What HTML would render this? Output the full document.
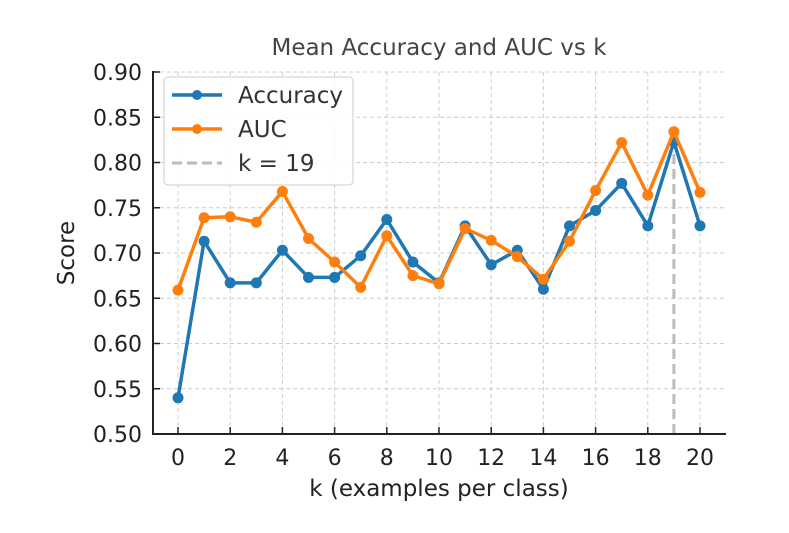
<!DOCTYPE html>
<html><head><meta charset="utf-8"><style>
html,body{margin:0;padding:0;background:#fff;}
svg{display:block;font-family:"DejaVu Sans","Liberation Sans",sans-serif;}
</style></head><body>
<svg id="chart" width="789" height="533" viewBox="0 0 789 533" xmlns="http://www.w3.org/2000/svg">
<rect x="0" y="0" width="789" height="533" fill="#fff"/>
<text x="439" y="55" text-anchor="middle" font-size="23" fill="#444">Mean Accuracy and AUC vs k</text>
<g id="grid"></g>
<g id="series"></g>
<g id="axes"></g>
<text x="439" y="496" text-anchor="middle" font-size="23" fill="#222">k (examples per class)</text>
<text x="74" y="253" text-anchor="middle" font-size="23" fill="#222" transform="rotate(-90 74 253)">Score</text>
<g>
<rect x="164" y="77" width="189" height="108" rx="4" fill="#fff" fill-opacity="0.85" stroke="#ccc" stroke-width="1"/>
<g>
<line x1="172" y1="95" x2="222" y2="95" stroke="#1f77b4" stroke-width="3.5"/>
<circle cx="197" cy="95" r="5" fill="#1f77b4"/>
<text x="238" y="103" font-size="23" fill="#333">Accuracy</text>
</g>
<g>
<line x1="172" y1="129" x2="222" y2="129" stroke="#ff7f0e" stroke-width="3.5"/>
<circle cx="197" cy="129" r="5" fill="#ff7f0e"/>
<text x="238" y="137" font-size="23" fill="#333">AUC</text>
</g>
<g>
<line x1="172" y1="163" x2="222" y2="163" stroke="#bbb" stroke-width="3" stroke-dasharray="10,5"/>
<text x="238" y="171" font-size="23" fill="#333">k = 19</text>
</g>
</g>
</svg>
<script>
const ks = [0,1,2,3,4,5,6,7,8,9,10,11,12,13,14,15,16,17,18,19,20];
const accuracy = [0.540,0.713,0.667,0.667,0.703,0.673,0.673,0.697,0.737,0.690,0.667,0.730,0.687,0.703,0.660,0.730,0.747,0.777,0.730,0.823,0.730];
const auc = [0.659,0.739,0.740,0.734,0.768,0.716,0.690,0.662,0.719,0.675,0.666,0.727,0.714,0.696,0.671,0.713,0.769,0.822,0.764,0.834,0.767];
const xTicks = [0,2,4,6,8,10,12,14,16,18,20];
const yTicks = [0.50,0.55,0.60,0.65,0.70,0.75,0.80,0.85,0.90];
const bestK = 19;

const NS = "http://www.w3.org/2000/svg";
function X(v){ return 178 + (v - 0) * (700 - 178) / 20; }
function Y(v){ return 434 - (v - 0.5) * (434 - 72) / 0.4; }
function mk(tag, attrs, parent){ const e = document.createElementNS(NS, tag); for (const k in attrs) e.setAttribute(k, attrs[k]); parent.appendChild(e); return e; }

const grid = document.getElementById('grid');
const axes = document.getElementById('axes');
const series = document.getElementById('series');

xTicks.forEach(t => {
  const g = mk('line', {x1:X(t), y1:72, x2:X(t), y2:434, stroke:'#ccc', 'stroke-width':1, 'stroke-dasharray':'4,3'}, grid);
  
  
  const tk = mk('line', {x1:X(t), y1:434, x2:X(t), y2:427, stroke:'#222', 'stroke-width':1.5}, axes);
  
  
  const lb = mk('text', {x:X(t), y:465, 'text-anchor':'middle', 'font-size':22, fill:'#222'}, axes);
  lb.textContent = String(t);
  
  
});
yTicks.forEach(t => {
  const g = mk('line', {x1:153, y1:Y(t), x2:726, y2:Y(t), stroke:'#ccc', 'stroke-width':1, 'stroke-dasharray':'4,3'}, grid);
  
  
  const tk = mk('line', {x1:153, y1:Y(t), x2:160, y2:Y(t), stroke:'#222', 'stroke-width':1.5}, axes);
  
  
  const lb = mk('text', {x:142, y:Y(t)+8, 'text-anchor':'end', 'font-size':22, fill:'#222'}, axes);
  lb.textContent = t.toFixed(2);
  
  
});
const ys = mk('line', {x1:153, y1:71, x2:153, y2:435, stroke:'#222', 'stroke-width':2}, axes);


const xs = mk('line', {x1:152, y1:434, x2:726, y2:434, stroke:'#222', 'stroke-width':2}, axes);



const vl = mk('line', {x1:X(bestK), y1:434, x2:X(bestK), y2:Y(accuracy[ks.indexOf(bestK)]), stroke:'#bbb', 'stroke-width':3, 'stroke-dasharray':'10,5'}, series);



function drawSeries(vals, color, name){
  const pts = vals.map((v,i) => X(ks[i]) + ',' + Y(v)).join(' ');
  const pl = mk('polyline', {points:pts, fill:'none', stroke:color, 'stroke-width':3.5, 'stroke-linejoin':'round'}, series);
  
  
  vals.forEach((v,i) => {
    const c = mk('circle', {cx:X(ks[i]), cy:Y(v), r:5.5, fill:color}, series);
    
    
  });
}
drawSeries(accuracy, '#1f77b4', 'accuracy');
drawSeries(auc, '#ff7f0e', 'auc');
</script>
</body></html>
